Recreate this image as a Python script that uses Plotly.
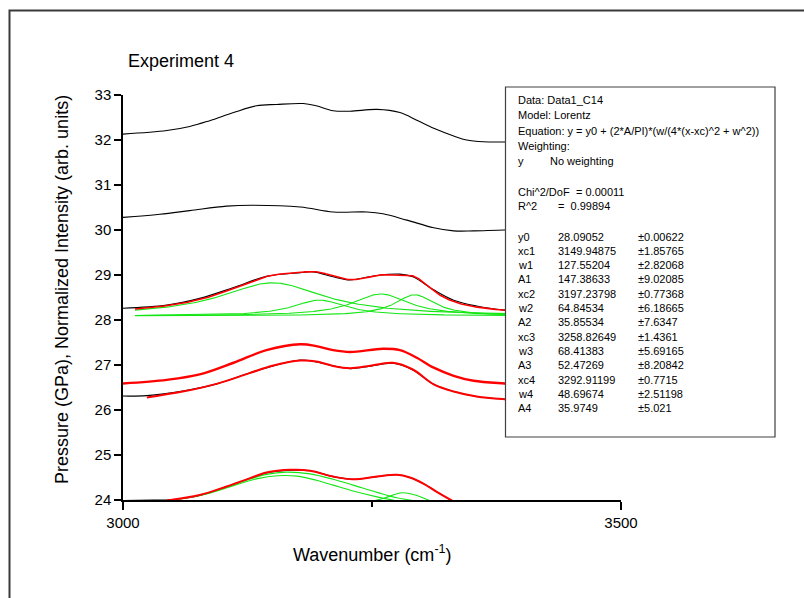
import numpy as np
import plotly.graph_objects as go

# ---------------- axes ----------------
X_RANGE = [3000, 3500]
Y_RANGE = [24, 33]
x_tickvals = [3000, 3500]
x_minor_tickvals = [3250]
y_tickvals = [24, 25, 26, 27, 28, 29, 30, 31, 32, 33]

# ---------------- measured spectra (black) ----------------
wn_s1 = [3000, 3044, 3067, 3087, 3111, 3134, 3154, 3181, 3194, 3211, 3228, 3255, 3278, 3295, 3312, 3332, 3345, 3362, 3383, 3420]
int_s1 = [32.13, 32.21, 32.30, 32.43, 32.61, 32.76, 32.79, 32.81, 32.76, 32.65, 32.64, 32.68, 32.61, 32.44, 32.26, 32.09, 32.00, 31.96, 31.955, 31.95]

wn_s2 = [3000, 3037, 3067, 3104, 3131, 3178, 3211, 3245, 3261, 3285, 3312, 3332, 3352, 3383, 3420]
int_s2 = [30.28, 30.35, 30.43, 30.53, 30.55, 30.51, 30.40, 30.40, 30.36, 30.22, 30.05, 29.98, 29.98, 30.00, 30.00]

wn_s3 = [3000, 3044, 3077, 3111, 3144, 3178, 3191, 3211, 3228, 3255, 3278, 3291, 3312, 3332, 3355, 3383, 3420]
int_s3 = [28.26, 28.33, 28.48, 28.72, 28.97, 29.05, 29.07, 28.96, 28.89, 28.99, 29.02, 28.96, 28.67, 28.44, 28.31, 28.22, 28.17]

wn_s4 = [3000, 3024, 3060, 3094, 3127, 3151, 3178, 3194, 3211, 3228, 3245, 3271, 3291, 3312, 3332, 3355, 3383, 3420]
int_s4 = [26.31, 26.32, 26.42, 26.58, 26.82, 26.98, 27.11, 27.07, 26.98, 26.92, 26.96, 27.04, 26.89, 26.57, 26.41, 26.30, 26.24, 26.20]

wn_s5 = [3000, 3030, 3044, 3077, 3104, 3127, 3144, 3168, 3188, 3211, 3231, 3255, 3275, 3288, 3302, 3315, 3330, 3350, 3383]
int_s5 = [23.99, 24.00, 24.00, 24.10, 24.30, 24.48, 24.60, 24.66, 24.65, 24.52, 24.46, 24.52, 24.56, 24.50, 24.36, 24.18, 23.99, 23.75, 23.50]

# ---------------- fitted envelopes (red) ----------------
wn_f4a = [3000, 3044, 3077, 3111, 3144, 3178, 3194, 3211, 3228, 3261, 3278, 3295, 3312, 3332, 3352, 3383, 3420]
int_f4a = [26.59, 26.67, 26.79, 27.05, 27.33, 27.46, 27.42, 27.33, 27.29, 27.36, 27.33, 27.16, 26.94, 26.76, 26.65, 26.59, 26.55]

wn_f4b = [3024, 3060, 3094, 3127, 3151, 3178, 3194, 3211, 3228, 3245, 3271, 3291, 3312, 3332, 3355, 3383, 3420]
int_f4b = [26.28, 26.41, 26.58, 26.82, 26.99, 27.10, 27.08, 26.98, 26.93, 26.97, 27.05, 26.90, 26.57, 26.41, 26.30, 26.24, 26.20]

wn_f5 = [3044, 3077, 3104, 3127, 3144, 3168, 3188, 3211, 3231, 3255, 3275, 3288, 3302, 3315, 3330, 3350, 3383]
int_f5 = [23.99, 24.11, 24.30, 24.48, 24.61, 24.67, 24.65, 24.52, 24.46, 24.52, 24.56, 24.50, 24.36, 24.18, 23.99, 23.75, 23.50]

# ---------------- components of the lowest fit (green) ----------------
wn_g5a = [3049, 3077, 3104, 3127, 3144, 3164, 3188, 3211, 3231, 3255, 3275, 3300]
int_g5a = [24.00, 24.10, 24.29, 24.46, 24.57, 24.62, 24.58, 24.46, 24.33, 24.17, 24.05, 23.96]

wn_g5b = [3060, 3085, 3111, 3134, 3155, 3175, 3194, 3211, 3231, 3255, 3275]
int_g5b = [24.04, 24.14, 24.32, 24.47, 24.54, 24.53, 24.44, 24.33, 24.20, 24.07, 23.98]

wn_g5c = [3250, 3262, 3280, 3295, 3308, 3320]
int_g5c = [23.97, 24.04, 24.16, 24.10, 23.99, 23.95]

# ---------------- Lorentz fit parameters (Data1_C14) ----------------
fit_y0 = 28.09052
fit_xc = [3149.94875, 3197.23798, 3258.82649, 3292.91199]
fit_w = [127.55204, 64.84534, 68.41383, 48.69674]
fit_A = [147.38633, 35.85534, 52.47269, 35.9749]
fit_err = {
    "y0": "±0.00622",
    "xc1": "±1.85765", "w1": "±2.82068", "A1": "±9.02085",
    "xc2": "±0.77368", "w2": "±6.18665", "A2": "±7.6347",
    "xc3": "±1.4361", "w3": "±5.69165", "A3": "±8.20842",
    "xc4": "±0.7715", "w4": "±2.51198", "A4": "±5.021",
}
fit_chi2 = "0.00011"
fit_r2 = "0.99894"
fit_span = [3012, 3420]


def lorentz(x, xc, w, A):
    return (2 * A / np.pi) * (w / (4 * (x - xc) ** 2 + w ** 2))


xf = np.linspace(fit_span[0], fit_span[1], 600)
components = [fit_y0 + lorentz(xf, c, w, a) for c, w, a in zip(fit_xc, fit_w, fit_A)]
envelope = fit_y0 + sum(lorentz(xf, c, w, a) for c, w, a in zip(fit_xc, fit_w, fit_A))

BLACK = "#000000"
RED = "#ff0000"
GREEN = "#14e614"

fig = go.Figure()


def add_line(x, y, color, width, smooth=True):
    fig.add_trace(go.Scatter(
        x=x, y=y, mode="lines",
        line=dict(color=color, width=width, shape="spline" if smooth else "linear", smoothing=1.0),
        hoverinfo="skip", showlegend=False,
    ))


# measured curves
add_line(wn_s1, int_s1, BLACK, 1.1)
add_line(wn_s2, int_s2, BLACK, 1.1)
add_line(wn_s3, int_s3, BLACK, 1.1)
add_line(wn_s4, int_s4, BLACK, 1.1)
add_line(wn_s5, int_s5, BLACK, 1.1)

# peak components
for comp in components:
    add_line(xf, comp, GREEN, 1.1, smooth=False)
add_line(wn_g5a, int_g5a, GREEN, 1.1)
add_line(wn_g5b, int_g5b, GREEN, 1.1)
add_line(wn_g5c, int_g5c, GREEN, 1.1)

# fitted envelopes
add_line(xf, envelope, RED, 1.6, smooth=False)
add_line(wn_f4a, int_f4a, RED, 2.4)
add_line(wn_f4b, int_f4b, RED, 2.0)
add_line(wn_f5, int_f5, RED, 2.0)

# ---------------- layout geometry (pixels) ----------------
W, H = 804, 598
L, R, T, B = 123, 621, 95, 500


def px(x):
    return (x - L) / (R - L)


def py(y):
    return (B - y) / (B - T)


FONT = "Arial, 'Liberation Sans', sans-serif"

axis_common = dict(
    showline=True, linecolor="black", linewidth=1.5,
    ticks="outside", tickcolor="black", tickwidth=1.5,
    showgrid=False, zeroline=False,
    tickfont=dict(family=FONT, size=15, color="black"),
)

fig.update_layout(
    width=W, height=H,
    margin=dict(l=L, r=W - R, t=T, b=H - B, pad=0),
    paper_bgcolor="white", plot_bgcolor="white",
    showlegend=False,
    xaxis=dict(range=X_RANGE, tickvals=x_tickvals, ticklen=8,
               minor=dict(tickvals=x_minor_tickvals, ticklen=5, ticks="outside",
                          tickcolor="black", tickwidth=1.5, showgrid=False),
               **axis_common),
    yaxis=dict(range=Y_RANGE, tickvals=y_tickvals, ticklen=7, **axis_common),
)

# page frame
fig.add_shape(type="rect", xref="paper", yref="paper",
              x0=px(9.5), x1=px(830), y0=py(10.5), y1=py(640),
              line=dict(color="#3a3a3a", width=2), fillcolor="rgba(0,0,0,0)", layer="above")

# parameter box
fig.add_shape(type="rect", xref="paper", yref="paper",
              x0=px(505.5), x1=px(775), y0=py(87), y1=py(437),
              line=dict(color="#404040", width=1.2), fillcolor="white", layer="above")

annotations = []


def text(x, y, s, size=11, anchor="left", angle=0):
    annotations.append(dict(
        x=px(x), y=py(y), xref="paper", yref="paper", text=s, showarrow=False,
        xanchor=anchor, yanchor="middle", textangle=angle,
        font=dict(family=FONT, size=size, color="black"),
    ))


# titles
text(126, 61, "Experiment 4", size=18)
text(372, 553, "Wavenumber (cm<sup>-1</sup>)", size=18, anchor="center")
annotations.append(dict(
    x=px(62), y=py(290), xref="paper", yref="paper",
    text="Pressure (GPa), Normalized Intensity (arb. units)", showarrow=False,
    xanchor="center", yanchor="middle", textangle=-90,
    font=dict(family=FONT, size=18, color="black"),
))

# parameter box contents
c1, c2, c3 = 516, 556, 636
text(c1, 100, "Data: Data1_C14")
text(c1, 115.3, "Model: Lorentz")
text(c1, 130.5, "Equation: y = y0 + (2*A/PI)*(w/(4*(x-xc)^2 + w^2))")
text(c1, 145.8, "Weighting:")
text(c1, 161, "y")
text(548, 161, "No weighting")
text(c1, 191.5, "Chi^2/DoF")
text(574, 191.5, "= " + fit_chi2)
text(c1, 206, "R^2")
text(556, 206, "=  " + fit_r2)

rows = [("y0", f"{fit_y0:.5f}")]
for i in range(4):
    rows.append((f"xc{i+1}", f"{fit_xc[i]:.5f}"))
    rows.append((f"w{i+1}", f"{fit_w[i]:.5f}"))
    rows.append((f"A{i+1}", f"{fit_A[i]:.5f}".rstrip("0") if i == 3 else f"{fit_A[i]:.5f}"))
y = 236.5
for name, val in rows:
    text(c1, y, name)
    text(c2, y, val)
    text(c3, y, fit_err[name])
    y += 14.3

fig.update_layout(annotations=annotations)

fig.write_html("out.html")
